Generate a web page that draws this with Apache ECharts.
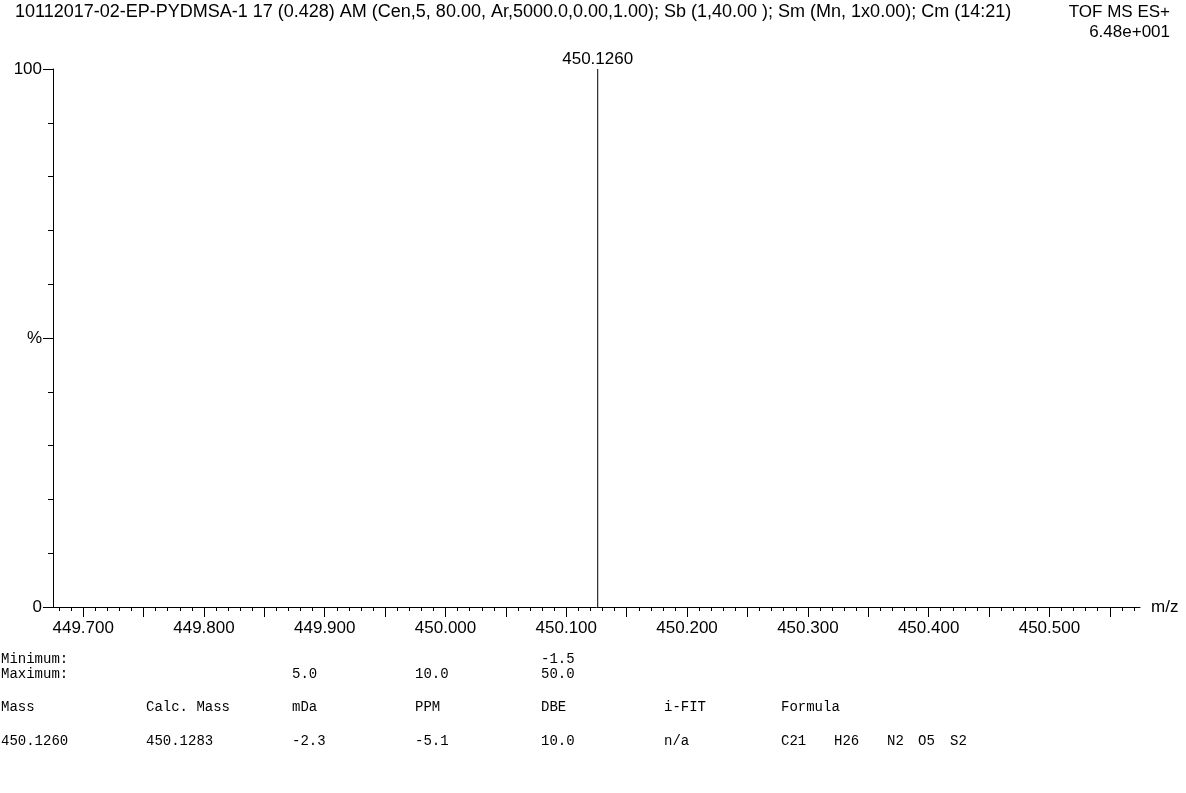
<!DOCTYPE html>
<html>
<head>
<meta charset="utf-8">
<script src="https://cdn.jsdelivr.net/npm/echarts@6/dist/echarts.min.js"></script>
<style>
  html, body { margin: 0; padding: 0; background: #fff; }
  #chart { width: 1186px; height: 793px; }
</style>
</head>
<body>
<div id="chart"></div>
<script>
// Spectrum header
const headerText = '10112017-02-EP-PYDMSA-1 17 (0.428) AM (Cen,5, 80.00, Ar,5000.0,0.00,1.00); Sb (1,40.00 ); Sm (Mn, 1x0.00); Cm (14:21)';
const modeText = 'TOF MS ES+';
const scaleText = '6.48e+001';

// Centroided peaks (m/z, relative intensity %)
const peakMz = [450.1260];
const peakIntensity = [100];

// m/z axis range and tick labels
const mzMin = 449.675;
const mzMax = 450.575;
const mzLabels = ['449.700', '449.800', '449.900', '450.000', '450.100', '450.200', '450.300', '450.400', '450.500'];

// Intensity axis labels
const yLabels = { 0: '0', 50: '%', 100: '100' };

// Elemental composition report
const limitRows = [
  ['Minimum:', '', '', '-1.5'],
  ['Maximum:', '5.0', '10.0', '50.0']
];
const tableHeader = ['Mass', 'Calc. Mass', 'mDa', 'PPM', 'DBE', 'i-FIT', 'Formula'];
const tableRow = ['450.1260', '450.1283', '-2.3', '-5.1', '10.0', 'n/a'];
const formulaParts = ['C21', 'H26', 'N2', 'O5', 'S2'];

const SANS = 'Liberation Sans, Arial, sans-serif';
const MONO = 'Liberation Mono, Courier New, monospace';

// minor ticks every 0.01, major every 0.05
const minorTicks = [];
for (let k = Math.ceil(mzMin * 100); k <= Math.floor(mzMax * 100); k++) minorTicks.push(k / 100);
const majorTicks = [];
for (let k = Math.ceil(mzMin * 20); k <= Math.floor(mzMax * 20); k++) majorTicks.push(k / 20);
const labelValues = mzLabels.map(Number);

const chart = echarts.init(document.getElementById('chart'), null, { renderer: 'canvas' });

const colX = [1, 146, 292, 415, 541, 664, 781];
const formulaX = [781, 834, 887, 918, 950];
const monoStyle = { fontFamily: MONO, fontSize: 14, fill: '#000' };

const graphics = [
  { type: 'text', left: 15, top: 3, style: { text: headerText, font: '18px ' + SANS, fill: '#000' } },
  { type: 'text', right: 16, top: 4, style: { text: modeText, font: '17px ' + SANS, fill: '#000', align: 'right' } },
  { type: 'text', right: 16, top: 24, style: { text: scaleText, font: '17px ' + SANS, fill: '#000', align: 'right' } }
];
// limits rows: first column plus mDa, PPM, DBE columns
limitRows.forEach((row, r) => {
  const y = 652 + r * 15;
  const xs = [colX[0], colX[2], colX[3], colX[4]];
  row.forEach((t, i) => {
    if (t) graphics.push({ type: 'text', x: xs[i], y: y, style: Object.assign({ text: t }, monoStyle) });
  });
});
tableHeader.forEach((t, i) => {
  graphics.push({ type: 'text', x: colX[i], y: 700, style: Object.assign({ text: t }, monoStyle) });
});
tableRow.forEach((t, i) => {
  graphics.push({ type: 'text', x: colX[i], y: 734, style: Object.assign({ text: t }, monoStyle) });
});
formulaParts.forEach((t, i) => {
  graphics.push({ type: 'text', x: formulaX[i], y: 734, style: Object.assign({ text: t }, monoStyle) });
});

const axisLineStyle = { color: '#000', width: 1 };

chart.setOption({
  animation: false,
  backgroundColor: '#fff',
  grid: { left: 53, right: 46, top: 69, bottom: 186, containLabel: false },
  xAxis: [
    {
      type: 'value', min: mzMin, max: mzMax, position: 'bottom',
      axisLine: { show: true, onZero: false, lineStyle: axisLineStyle },
      axisTick: { show: true, length: 4, customValues: minorTicks, lineStyle: axisLineStyle },
      axisLabel: { show: false },
      splitLine: { show: false },
      name: 'm/z', nameLocation: 'end', nameGap: 11,
      nameTextStyle: { fontFamily: SANS, fontSize: 17, color: '#000', verticalAlign: 'middle' }
    },
    {
      type: 'value', min: mzMin, max: mzMax, position: 'bottom',
      axisLine: { show: false },
      axisTick: { show: true, length: 10, customValues: majorTicks, lineStyle: axisLineStyle },
      axisLabel: {
        show: true, customValues: labelValues, margin: 13,
        formatter: v => v.toFixed(3),
        fontFamily: SANS, fontSize: 17, color: '#000'
      },
      splitLine: { show: false }
    }
  ],
  yAxis: [
    {
      type: 'value', min: 0, max: 100, interval: 10, position: 'left',
      axisLine: { show: true, onZero: false, lineStyle: axisLineStyle },
      axisTick: { show: true, length: 5, lineStyle: axisLineStyle },
      axisLabel: { show: false },
      splitLine: { show: false }
    },
    {
      type: 'value', min: 0, max: 100, interval: 50, position: 'left',
      axisLine: { show: false },
      axisTick: { show: true, length: 10, lineStyle: axisLineStyle },
      axisLabel: {
        show: true, margin: 11,
        formatter: v => yLabels[v] || '',
        fontFamily: SANS, fontSize: 17, color: '#000'
      },
      splitLine: { show: false }
    }
  ],
  series: [{
    type: 'bar',
    xAxisIndex: 0, yAxisIndex: 0,
    barWidth: 1,
    itemStyle: { color: '#000' },
    label: {
      show: true, position: 'top', distance: 1,
      formatter: p => p.value[0].toFixed(4),
      fontFamily: SANS, fontSize: 17, color: '#000'
    },
    data: peakMz.map((m, i) => [m, peakIntensity[i]])
  }],
  graphic: graphics
});
</script>
</body>
</html>
